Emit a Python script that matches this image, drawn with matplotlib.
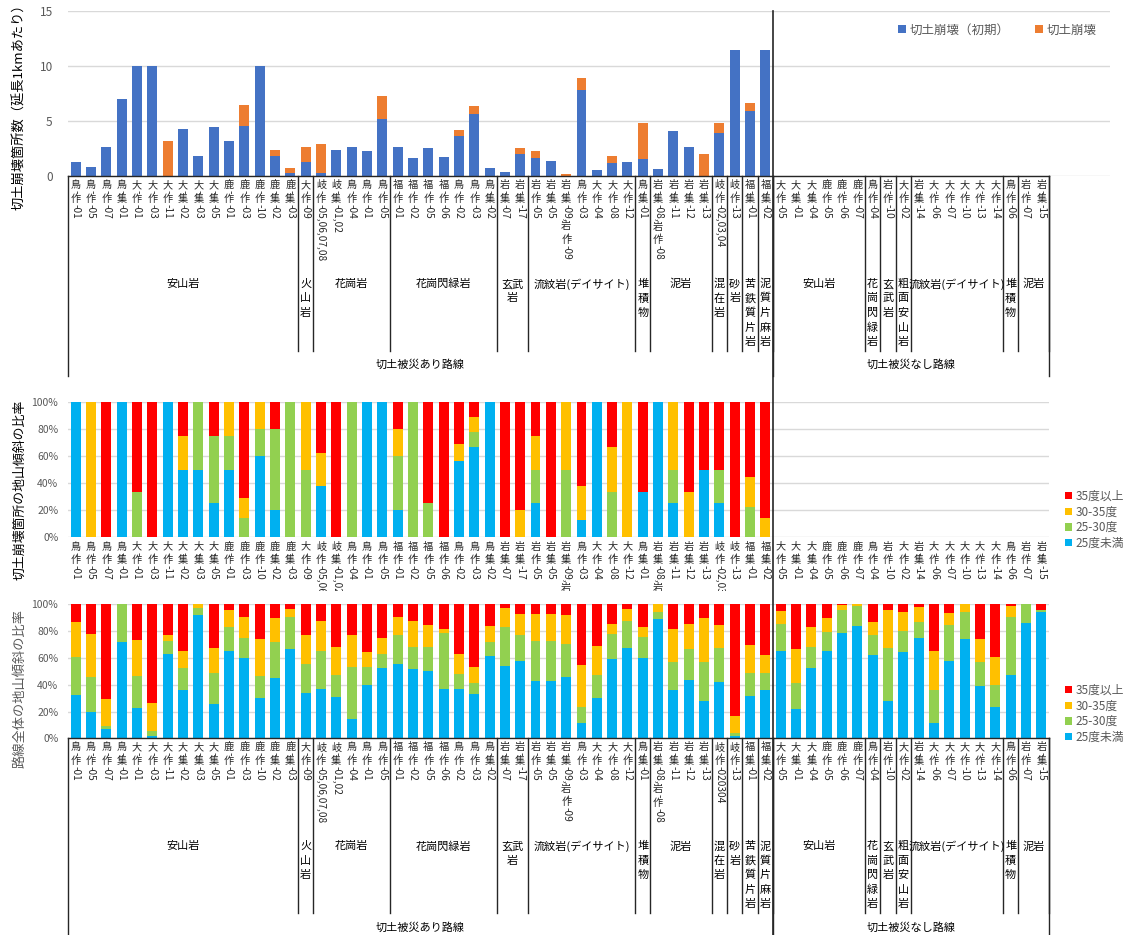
import numpy as np
import matplotlib
matplotlib.use("Agg")
import matplotlib.pyplot as plt
from matplotlib.transforms import IdentityTransform, Bbox
from matplotlib.font_manager import FontProperties
from matplotlib.lines import Line2D

FONT = ["Noto Sans CJK JP", "DejaVu Sans"]
plt.rcParams["font.family"] = FONT

# ---------------- data ----------------
sites_damaged = ['鳥-作-01', '鳥-作-05', '鳥-作-07', '鳥-集-01', '大-作-01', '大-作-03', '大-作-11',
                 '大-集-02', '大-集-03', '大-集-05', '鹿-作-01', '鹿-作-03', '鹿-作-10', '鹿-集-02',
                 '鹿-集-03', '大-作-09', '岐-作-05,06,07,08', '岐-集-01,02', '鳥-作-04', '鳥-作-01',
                 '鳥-作-05', '福-作-01', '福-作-02', '福-作-05', '福-作-06', '鳥-作-02', '鳥-作-03',
                 '鳥-集-02', '岩-集-07', '岩-集-17', '岩-作-05', '岩-集-05', '岩-集-09,岩-作-09',
                 '鳥-作-03', '大-作-04', '大-作-08', '大-作-12', '鳥-集-01', '岩-集-08,岩-作-08',
                 '岩-集-11', '岩-集-12', '岩-集-13', '岐-作-02,03,04', '岐-作-13', '福-集-01', '福-集-02']
sites_none = ['大-作-05', '大-集-01', '大-集-04', '鹿-作-05', '鹿-作-06', '鹿-作-07', '鳥-作-04',
              '岩-作-10', '大-作-02', '岩-集-14', '大-作-06', '大-作-07', '大-作-10', '大-作-13',
              '大-作-14', '鳥-作-06', '岩-作-07', '岩-集-15']
labels_top = sites_damaged + sites_none
labels_bottom = sites_damaged[:42] + ['岐-作-020304'] + sites_damaged[43:] + sites_none

groups_damaged = [('安山岩', 15), ('火山岩', 1), ('花崗岩', 5), ('花崗閃緑岩', 7), ('玄武岩', 2),
                  ('流紋岩(デイサイト)', 7), ('堆積物', 1), ('泥岩', 4), ('混在岩', 1), ('砂岩', 1),
                  ('苦鉄質片岩', 1), ('泥質片麻岩', 1)]
groups_none = [('安山岩', 6), ('花崗閃緑岩', 1), ('玄武岩', 1), ('粗面安山岩', 1),
               ('流紋岩(デイサイト)', 6), ('堆積物', 1), ('泥岩', 2)]
route_groups = [('切土被災あり路線', len(sites_damaged)), ('切土被災なし路線', len(sites_none))]

# failures per km of route
fail_initial = [1.25, 0.85, 2.68, 7.0, 10.0, 10.0, 0.0, 4.24, 1.83, 4.42, 3.2, 4.57, 10.0, 1.86,
                0.3, 1.28, 0.3, 2.32, 2.65, 2.29, 5.15, 2.65, 1.68, 2.56, 1.77, 3.63, 5.64, 0.73,
                0.34, 2.04, 1.68, 1.37, 0.0, 7.8, 0.52, 1.19, 1.28, 1.59, 0.67, 4.09, 2.68, 0.0,
                3.87, 11.46, 5.91, 11.46]
fail_later = [0, 0, 0, 0, 0, 0, 3.2, 0, 0, 0, 0, 1.86, 0, 0.46,
              0.4, 1.37, 2.63, 0, 0, 0, 2.08, 0, 0, 0, 0, 0.57, 0.7, 0,
              0, 0.55, 0.55, 0, 0.18, 1.1, 0, 0.64, 0, 3.2, 0, 0, 0, 1.98,
              0.95, 0, 0.77, 0]

# slope shares at failure locations (%)
fail_lt25 = [100, 0, 0, 100, 0, 0, 100, 50, 50, 25, 50, 0, 60, 20, 0, 0, 37.5, 0, 0, 100, 100, 20,
             0, 0, 0, 56.25, 66.7, 100, 0, 0, 25, 0, 0, 12.5, 100, 0, 0, 33.3, 100, 25, 0, 50,
             25, 0, 0, 0]
fail_25_30 = [0, 0, 0, 0, 33.3, 0, 0, 0, 50, 50, 25, 14.3, 20, 60, 100, 50, 0, 0, 100, 0, 0, 40,
              100, 25, 0, 0, 11.1, 0, 0, 0, 25, 0, 50, 0, 0, 33.3, 0, 0, 0, 25, 0, 0,
              25, 0, 22.2, 0]
fail_30_35 = [0, 100, 0, 0, 0, 0, 0, 25, 0, 0, 25, 14.3, 20, 0, 0, 50, 25, 0, 0, 0, 0, 20,
              0, 0, 0, 12.5, 11.1, 0, 0, 20, 25, 0, 50, 25, 0, 33.3, 100, 0, 0, 50, 33.3, 0,
              0, 0, 22.2, 14.3]
fail_ge35 = [0, 0, 100, 0, 66.7, 100, 0, 25, 0, 25, 0, 71.4, 0, 20, 0, 0, 37.5, 100, 0, 0, 0, 20,
             0, 75, 100, 31.25, 11.1, 0, 100, 80, 25, 100, 0, 62.5, 0, 33.4, 0, 66.7, 0, 0, 66.7, 50,
             50, 100, 55.6, 85.7]

# slope shares along whole routes (%)
route_lt25 = [32.6, 19.7, 7.2, 72.1, 22.9, 1.7, 63.2, 36.3, 92.3, 25.9, 65.2, 60.2, 30.3, 45.3,
              66.7, 34.1, 37.1, 30.8, 14.7, 40.0, 52.7, 55.5, 52.0, 50.2, 36.6, 36.6, 32.8, 61.7,
              54.2, 58.0, 42.8, 42.9, 46.0, 11.2, 30.3, 59.5, 67.2, 60.2, 89.3, 36.3, 43.8, 28.1,
              42.3, 2.0, 31.8, 36.1,
              65.4, 22.1, 52.7, 65.4, 78.9, 83.8, 62.2, 27.9, 64.7, 74.9, 11.7, 57.5, 73.9, 38.8,
              23.6, 47.5, 85.8, 94.5]
route_25_30 = [28.3, 25.8, 2.3, 27.9, 23.4, 3.8, 9.7, 16.4, 5.2, 22.6, 17.6, 14.9, 16.5, 26.3,
               23.6, 21.6, 28.3, 16.7, 38.8, 13.5, 10.5, 21.9, 16.4, 18.2, 42.3, 11.2, 8.7, 10.2,
               29.1, 19.1, 30.1, 30.0, 24.6, 12.4, 17.2, 18.4, 20.6, 15.2, 5.2, 20.4, 22.6, 28.6,
               24.9, 2.2, 16.7, 12.9,
               19.9, 19.4, 15.2, 13.7, 16.6, 15.0, 14.7, 39.8, 15.6, 12.2, 24.1, 27.3, 20.1, 17.9,
               16.0, 43.3, 14.2, 1.0]
route_30_35 = [25.9, 32.4, 19.9, 0.0, 26.8, 20.9, 4.5, 12.2, 2.5, 18.9, 13.2, 15.2, 27.6, 18.4,
               6.2, 21.4, 22.4, 20.9, 23.6, 11.2, 11.4, 12.9, 19.4, 16.2, 2.4, 14.9, 12.0, 11.9,
               13.7, 15.4, 19.9, 20.1, 21.7, 31.1, 21.4, 7.4, 8.7, 7.4, 5.5, 24.9, 18.7, 32.9,
               17.4, 12.7, 21.2, 13.2,
               9.7, 25.2, 15.4, 10.9, 4.0, 1.2, 9.7, 27.8, 13.7, 10.9, 29.4, 9.0, 6.0, 17.2,
               20.8, 8.0, 0.0, 0.0]
route_ge35 = [13.2, 22.1, 70.6, 0.0, 26.9, 73.6, 22.6, 35.1, 0.0, 32.6, 4.0, 9.7, 25.6, 10.0,
              3.5, 22.9, 12.2, 31.6, 22.9, 35.3, 25.4, 9.7, 12.2, 15.4, 18.7, 37.3, 46.5, 16.2,
              3.0, 7.5, 7.2, 7.0, 7.7, 45.3, 31.1, 14.7, 3.5, 17.2, 0.0, 18.4, 14.9, 10.4,
              15.4, 83.1, 30.3, 37.8,
              5.0, 33.3, 16.7, 10.0, 0.5, 0.0, 13.4, 4.5, 6.0, 2.0, 34.8, 6.2, 0.0, 26.1,
              39.6, 1.2, 0.0, 4.5]

slope_classes = ['25度未満', '25-30度', '30-35度', '35度以上']
slope_colors = ['#00B0F0', '#92D050', '#FFC000', '#FF0000']

# ---------------- figure / axes ----------------
W, H = 1126, 935
fig = plt.figure(figsize=(W / 100, H / 100), dpi=100)
renderer = fig.canvas.get_renderer()
ID = IdentityTransform()
TICK_C = '#595959'
LINE_C = '#262626'
N = len(labels_top)
CW = (1049 - 68) / N


def axes_px(l, t, r, b):
    return fig.add_axes([l / W, 1 - b / H, (r - l) / W, (b - t) / H])


def style(ax, pad):
    for s in ax.spines.values():
        s.set_visible(False)
    ax.set_xticks([])
    ax.tick_params(axis='y', length=0, pad=pad, labelsize=8.5 if pad > 9 else 7.5,
                   labelcolor=TICK_C)
    ax.yaxis.grid(True, color='#D9D9D9', linewidth=1.0)
    ax.set_axisbelow(True)


ax1 = axes_px(68, 11, 68 + 68 * CW, 176)
ax2 = axes_px(68, 402, 1049, 537)
ax3 = axes_px(68, 604.3, 1049, 738.3)

# top: failures per km
x_d = np.arange(len(sites_damaged))
b_init = ax1.bar(x_d, fail_initial, width=0.65, color='#4472C4', linewidth=0)
b_late = ax1.bar(x_d, fail_later, width=0.65, bottom=fail_initial, color='#ED7D31', linewidth=0)
ax1.set_xlim(-0.5, 67.5)
ax1.set_ylim(0, 15)
ax1.set_yticks([0, 5, 10, 15])
style(ax1, 11)


def stacked(ax, x, series):
    bottom = np.zeros(len(x))
    handles = []
    for vals, col in zip(series, slope_colors):
        v = np.asarray(vals, dtype=float)
        handles.append(ax.bar(x, v, width=0.65, bottom=bottom, color=col, linewidth=0))
        bottom += v
    ax.set_xlim(-0.5, N - 0.5)
    ax.set_ylim(0, 100)
    ax.set_yticks(range(0, 101, 20))
    ax.set_yticklabels([f'{v}%' for v in range(0, 101, 20)])
    style(ax, 7)
    return handles


h2 = stacked(ax2, x_d, [fail_lt25, fail_25_30, fail_30_35, fail_ge35])
h3 = stacked(ax3, np.arange(N), [route_lt25, route_25_30, route_30_35, route_ge35])

# ---------------- vertical (tategaki) text helpers ----------------


def split_runs(s):
    runs = []
    for ch in s:
        wide = ord(ch) >= 0x2E80
        if runs and runs[-1][0] == wide:
            runs[-1][1] += ch
        else:
            runs.append([wide, ch])
    return runs


def vlabel(xd, ytop, s, fs, color, clip=None):
    fp = FontProperties(family=FONT, size=fs)
    em = fs * 100 / 72
    y = ytop
    for wide, run in split_runs(s):
        if wide:
            for ch in run:
                t = fig.text(xd, H - (y + em / 2), ch, transform=ID, ha='center', va='center',
                             fontproperties=fp, color=color)
                if clip is not None:
                    t.set_clip_box(clip)
                    t.set_clip_on(True)
                y += em
        else:
            t = fig.text(xd, H - y, run, transform=ID, rotation=-90, rotation_mode='anchor',
                         ha='left', va='center', fontproperties=fp, color=color)
            if clip is not None:
                t.set_clip_box(clip)
                t.set_clip_on(True)
            w, _, _ = renderer.get_text_width_height_descent(run, fp, ismath=False)
            y += w


def col_x(ax, i):
    return ax.transData.transform((i, 0))[0]


def col_edge(ax, i):
    return ax.transData.transform((i - 0.5, 0))[0]


def hline(x0, x1, y, lw=1.0):
    fig.add_artist(Line2D([x0, x1], [H - y, H - y], transform=ID, color=LINE_C, lw=lw))


def vline(x, y0, y1, lw=1.0):
    fig.add_artist(Line2D([x, x], [H - y0, H - y1], transform=ID, color=LINE_C, lw=lw))


def group_text(xc, ytop, name, ncol, fs=8):
    fp = FontProperties(family=FONT, size=fs)
    pitch = 14.5
    if ncol == 1:
        lines = list(name)
    elif ncol == 2 and len(name) > 2:
        lines = [name[i:i + 2] for i in range(0, len(name), 2)]
    else:
        lines = [name]
    for k, ln in enumerate(lines):
        fig.text(xc, H - (ytop + k * pitch), ln, transform=ID, ha='center', va='center',
                 fontproperties=fp, color='#000000')


def category_table(ax, labels, top):
    right = col_edge(ax, len(labels))
    left = col_edge(ax, 0)
    hline(left, right, top)
    for i, lab in enumerate(labels):
        vlabel(col_x(ax, i), top + 4, lab, 7.3, '#262626')
    # rock-type level
    start = 0
    for groups in (groups_damaged, groups_none):
        for name, n in groups:
            xc = (col_edge(ax, start) + col_edge(ax, start + n)) / 2
            group_text(xc, top + 108, name, n)
            start += n
            vline(col_edge(ax, start), top, top + 175)
    # route level
    start = 0
    vline(left, top, top + 200)
    for name, n in route_groups:
        xc = (col_edge(ax, start) + col_edge(ax, start + n)) / 2
        fig.text(xc, H - (top + 189), name, transform=ID, ha='center', va='center',
                 fontsize=8, color='#000000')
        start += n
        vline(col_edge(ax, start), top, top + 200)


category_table(ax1, labels_top, 176)
category_table(ax3, labels_bottom, 738.3)

# middle chart: single-level labels, clipped at the chart bottom
clip_mid = Bbox([[0, H - 591], [W, H]])
for i, lab in enumerate(labels_top):
    vlabel(col_x(ax2, i), 541.5, lab, 7.3, '#262626', clip=clip_mid)

# divider between damaged / undamaged routes
div_x = col_edge(ax1, len(sites_damaged))
vline(div_x, 11, H, lw=1.2)

# axis titles
fig.text(20, H - 104, '切土崩壊箇所数（延長1kmあたり）', transform=ID, rotation=90,
         ha='center', va='center', fontsize=9.5, color='#000000')
fig.text(20, H - 490, '切土崩壊箇所の地山傾斜の比率', transform=ID, rotation=90,
         ha='center', va='center', fontsize=9.3, color='#000000')
fig.text(20, H - 688, '路線全体の地山傾斜の比率', transform=ID, rotation=90,
         ha='center', va='center', fontsize=9.5, color='#595959')

# legends
fig.legend([b_init, b_late], ['切土崩壊（初期）', '切土崩壊'], loc='center left',
           bbox_to_anchor=(892 / W, 1 - 30 / H), ncol=2, frameon=False, borderpad=0,
           handlelength=0.6, handleheight=0.6, handletextpad=0.35, columnspacing=2.0,
           fontsize=9, labelcolor=TICK_C)
for hs, ytop in ((h2, 484), (h3, 678)):
    fig.legend(hs[::-1], slope_classes[::-1], loc='upper left',
               bbox_to_anchor=(1059 / W, 1 - ytop / H), frameon=False, borderpad=0,
               handlelength=0.6, handleheight=0.6, handletextpad=0.3, labelspacing=0.22,
               fontsize=8.5, labelcolor=TICK_C)

fig.savefig('out.png', dpi=100)
